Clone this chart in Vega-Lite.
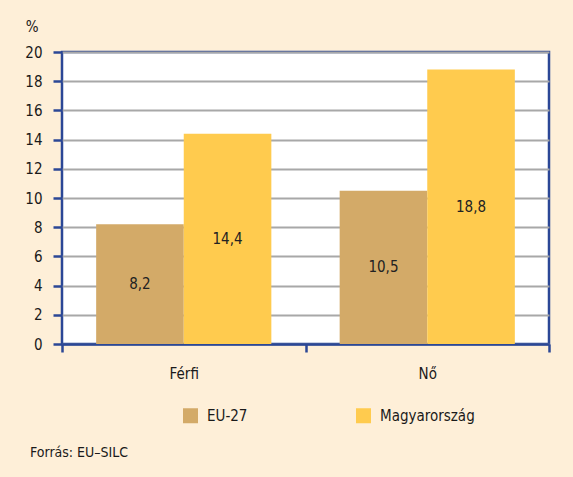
{
  "$schema": "https://vega.github.io/schema/vega-lite/v6.json",
  "autosize": {"type": "none"},
  "width": 487,
  "height": 292,
  "padding": {"left": 62, "top": 52, "right": 24, "bottom": 133},
  "background": "#FEEFD8",
  "config": {
    "locale": {"number": {"decimal": ",", "thousands": " ", "grouping": [3], "currency": ["", " Ft"]}},
    "view": {"stroke": "#2B4796", "strokeWidth": 2.5, "fill": "white"},
    "font": "'DejaVu Sans Condensed', 'Open Sans', sans-serif",
    "axis": {"labelFont": "'DejaVu Sans Condensed', 'Open Sans', sans-serif", "labelFontSize": 15, "labelColor": "#1a1a1a", "titleFont": "'DejaVu Sans Condensed', 'Open Sans', sans-serif"},
    "legend": {"labelFont": "'DejaVu Sans Condensed', 'Open Sans', sans-serif", "labelFontSize": 15, "labelColor": "#1a1a1a"}
  },
  "data": {"values": [
    {"nem": "Férfi", "terulet": "EU-27", "value": 8.2},
    {"nem": "Férfi", "terulet": "Magyarország", "value": 14.4},
    {"nem": "Nő", "terulet": "EU-27", "value": 10.5},
    {"nem": "Nő", "terulet": "Magyarország", "value": 18.8}
  ]},
  "title": {
    "text": "Forrás: EU–SILC",
    "orient": "bottom",
    "anchor": "start",
    "frame": "group",
    "dx": -32,
    "offset": 22,
    "font": "'DejaVu Sans Condensed', 'Open Sans', sans-serif",
    "fontSize": 14,
    "fontWeight": "normal",
    "color": "#1a1a1a"
  },
  "encoding": {
    "x": {
      "field": "nem", "type": "nominal", "sort": ["Férfi", "Nő"],
      "scale": {"paddingInner": 0, "paddingOuter": 0},
      "axis": {
        "title": null, "labelAngle": 0, "domainColor": "#2B4796", "domainWidth": 2.5,
        "tickColor": "#2B4796", "tickWidth": 2.5, "tickSize": 8, "tickBand": "extent",
        "labelPadding": 14
      }
    },
    "xOffset": {"field": "terulet", "type": "nominal", "scale": {"paddingOuter": 0.39, "paddingInner": 0}},
    "y": {
      "type": "quantitative",
      "scale": {"domain": [0, 20]},
      "axis": {
        "values": [0, 2, 4, 6, 8, 10, 12, 14, 16, 18, 20], "labelOverlap": false,
        "title": "%", "titleAngle": 0, "titleAlign": "right", "titleBaseline": "bottom",
        "titleX": -24, "titleY": -18, "titleFontSize": 15, "titleFontWeight": "normal", "titleColor": "#1a1a1a",
        "domain": false, "tickColor": "#2B4796", "tickWidth": 2.5, "tickSize": 9,
        "labelPadding": 11, "gridColor": "#A8A8A8", "gridWidth": 1.8
      }
    }
  },
  "layer": [
    {
      "mark": {"type": "bar"},
      "encoding": {
        "y": {"field": "value"},
        "color": {
          "field": "terulet", "type": "nominal",
          "scale": {"domain": ["EU-27", "Magyarország"], "range": ["#D3AA68", "#FFCB4E"]},
          "legend": {
            "title": null, "orient": "none", "direction": "horizontal",
            "legendX": 121, "legendY": 356, "symbolType": "square", "symbolSize": 225,
            "symbolStrokeWidth": 0, "columnPadding": 108, "labelOffset": 9
          }
        }
      }
    },
    {
      "transform": [{"calculate": "datum.value / 2", "as": "mid"}],
      "mark": {"type": "text", "fontSize": 15, "color": "#222222", "baseline": "middle"},
      "encoding": {
        "y": {"field": "mid"},
        "text": {"field": "value", "type": "quantitative", "format": ".1f"}
      }
    }
  ]
}
